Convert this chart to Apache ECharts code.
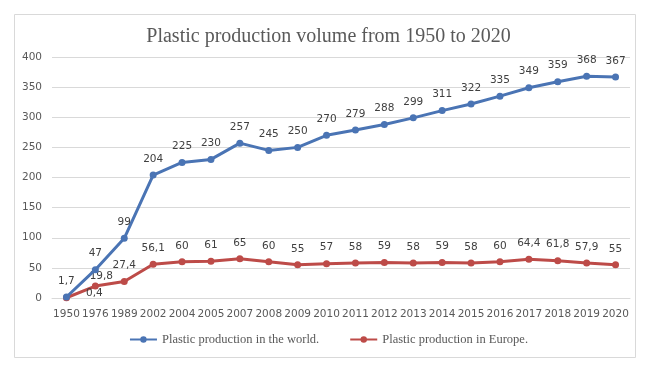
<!DOCTYPE html>
<html><head><meta charset="utf-8">
<script src="https://cdn.jsdelivr.net/npm/echarts@6/dist/echarts.min.js"></script>
<style>html,body{margin:0;padding:0;background:#fff}#c{width:657px;height:368px}</style>
</head><body><div id="c"></div>
<script>
const years = ['1950','1976','1989','2002','2004','2005','2007','2008','2009','2010','2011','2012','2013','2014','2015','2016','2017','2018','2019','2020'];
const world = [1.7,47,99,204,225,230,257,245,250,270,279,288,299,311,322,335,349,359,368,367];
const europe = [0.4,19.8,27.4,56.1,60,61,65,60,55,57,58,59,58,59,58,60,64.4,61.8,57.9,55];
const worldName = 'Plastic production in the world.';
const europeName = 'Plastic production in Europe.';
const titleText = 'Plastic production volume from 1950 to 2020';

const fmt = p => String(p.value).replace('.', ',');
const chart = echarts.init(document.getElementById('c'), null, {renderer:'canvas'});
const labelStyle = {show:true, position:'top', distance:7, color:'#404040', fontFamily:'DejaVu Sans', fontSize:10.5, formatter:fmt};
const europeLabelTweaks = {0:{position:'right', distance:16, offset:[0,-4]}, 1:{offset:[6,6]}};
chart.setOption({
  animation:false,
  graphic:[{type:'rect', shape:{x:14.5,y:14.5,width:621,height:343}, style:{fill:'none', stroke:'#d9d9d9', lineWidth:1}, silent:true}],
  title:{text:titleText, left:'center', top:22, textStyle:{fontFamily:'Liberation Serif', fontSize:20, fontWeight:'normal', color:'#595959'}},
  legend:{bottom:17, left:'center', itemGap:30, itemWidth:27, itemHeight:8, textStyle:{fontFamily:'Liberation Serif', fontSize:12.5, color:'#595959'}, data:[worldName, europeName]},
  grid:{left:52, right:27, top:57, bottom:70},
  xAxis:{type:'category', data:years, boundaryGap:true,
    axisLine:{lineStyle:{color:'#d9d9d9'}}, axisTick:{show:false},
    axisLabel:{color:'#595959', fontFamily:'DejaVu Sans', fontSize:10.5, margin:11, interval:0}},
  yAxis:{type:'value', min:0, max:400, interval:50,
    axisLine:{show:false}, axisTick:{show:false},
    splitLine:{lineStyle:{color:'#d9d9d9'}},
    axisLabel:{color:'#595959', fontFamily:'DejaVu Sans', fontSize:10.5, margin:10}},
  series:[
    {name:worldName, type:'line', data:world, symbol:'circle', symbolSize:7,
     lineStyle:{color:'#4a74b4', width:3}, itemStyle:{color:'#4a74b4'}, label:labelStyle, z:3},
    {name:europeName, type:'line', data:europe.map((v,i)=> europeLabelTweaks[i] ? {value:v, label:europeLabelTweaks[i]} : v), symbol:'circle', symbolSize:7,
     lineStyle:{color:'#bd4b48', width:3}, itemStyle:{color:'#bd4b48'}, label:labelStyle, z:2}
  ]
});
</script></body></html>
